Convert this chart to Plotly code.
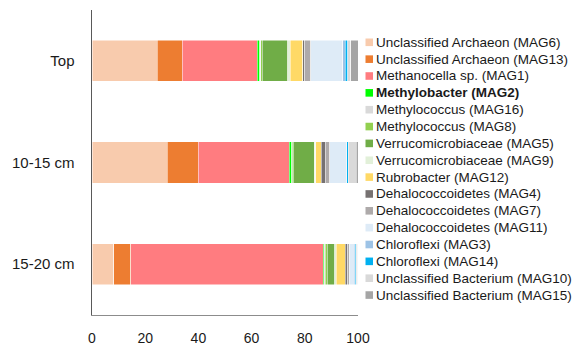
import plotly.graph_objects as go

categories = ["Top", "10-15 cm", "15-20 cm"]

taxa = [
    "Unclassified Archaeon (MAG6)",
    "Unclassified Archaeon (MAG13)",
    "Methanocella sp. (MAG1)",
    "<b>Methylobacter (MAG2)</b>",
    "Methylococcus (MAG16)",
    "Methylococcus (MAG8)",
    "Verrucomicrobiaceae (MAG5)",
    "Verrucomicrobiaceae (MAG9)",
    "Rubrobacter (MAG12)",
    "Dehalococcoidetes (MAG4)",
    "Dehalococcoidetes (MAG7)",
    "Dehalococcoidetes (MAG11)",
    "Chloroflexi (MAG3)",
    "Chloroflexi (MAG14)",
    "Unclassified Bacterium (MAG10)",
    "Unclassified Bacterium (MAG15)",
]

colors = [
    "#F8CBAD", "#ED7D31", "#FF7C80", "#00FF00", "#D9D9D9", "#92D050",
    "#70AD47", "#E2F0D9", "#FFD966", "#767171", "#AEAAAA", "#DEEBF7",
    "#9DC3E6", "#00B0F0", "#D9D9D9", "#A5A5A5",
]

# relative abundance (%) per taxon for [Top, 10-15 cm, 15-20 cm]
mag6 = [24.5, 28.3, 8.1]
mag13 = [9.5, 11.6, 6.4]
mag1 = [28.1, 34.3, 72.4]
mag2 = [1.0, 0.8, 0.5]
mag16 = [0.3, 0.3, 0.3]
mag8 = [0.6, 0.3, 0.7]
mag5 = [9.5, 8.0, 2.8]
mag9 = [1.0, 0.5, 0.7]
mag12 = [4.7, 2.0, 3.3]
mag4 = [0.8, 1.5, 1.0]
mag7 = [2.3, 1.8, 0.5]
mag11 = [11.9, 6.1, 1.8]
mag3 = [1.0, 0.3, 0.4]
mag14 = [1.0, 0.5, 0.5]
mag10 = [1.0, 3.0, 0.5]
mag15 = [2.8, 0.7, 0.3]

series = [mag6, mag13, mag1, mag2, mag16, mag8, mag5, mag9, mag12,
          mag4, mag7, mag11, mag3, mag14, mag10, mag15]

x_ticks = [0, 20, 40, 60, 80, 100]

W, H = 572, 345
ML, MT = 92, 10
MR = W - 358
MB = H - 315
PW, PH = W - ML - MR, H - MT - MB

fig = go.Figure()
for name, col, vals in zip(taxa, colors, series):
    fig.add_trace(go.Bar(
        y=categories, x=vals, name=name, orientation="h",
        marker=dict(color=col, line=dict(color="white", width=0.5)),
        showlegend=False,
    ))

font_family = "Liberation Sans, Arial, sans-serif"
text_col = "#1a1a1a"


# manual legend (Excel-style compact spacing); positions in screen px
def px_x(px):
    return (px - ML) / PW


def px_y(py):
    return (H - MB - py) / PH


shapes = []
annotations = []
row0, step = 42.3, 16.85
for i, (name, col) in enumerate(zip(taxa, colors)):
    cy = row0 + step * i
    shapes.append(dict(
        type="rect", xref="paper", yref="paper",
        x0=px_x(365.5), x1=px_x(373), y0=px_y(cy + 3.8), y1=px_y(cy - 3.8),
        fillcolor=col, line=dict(width=0), layer="above",
    ))
    annotations.append(dict(
        text=name, xref="paper", yref="paper",
        x=px_x(374.5), y=px_y(cy), xanchor="left", yanchor="middle",
        showarrow=False, borderpad=0,
        font=dict(family=font_family, size=13.5, color=text_col),
    ))

fig.update_layout(
    width=W, height=H,
    barmode="stack",
    bargap=0.596,
    plot_bgcolor="white", paper_bgcolor="white",
    margin=dict(l=ML, r=MR, t=MT, b=MB, autoexpand=False),
    font=dict(family=font_family, size=13, color=text_col),
    showlegend=False,
    hovermode=False,
    shapes=shapes,
    annotations=annotations,
    xaxis=dict(
        range=[0, 100], tickvals=x_ticks, showgrid=False, zeroline=False,
        showline=True, linecolor="#8c8c8c", linewidth=1,
        ticks="", ticklabelstandoff=10, automargin=False,
        tickfont=dict(size=14, color=text_col),
    ),
    yaxis=dict(
        categoryorder="array", categoryarray=categories[::-1],
        showgrid=False, zeroline=False,
        showline=True, linecolor="#595959", linewidth=1.5,
        ticks="", ticklabelstandoff=13, automargin=False,
        tickfont=dict(size=15, color=text_col),
    ),
)

fig.write_html(
    "out.html",
    config={"displayModeBar": False, "staticPlot": True},
    post_script="document.body.style.margin='0';document.body.style.overflow='hidden';",
)
